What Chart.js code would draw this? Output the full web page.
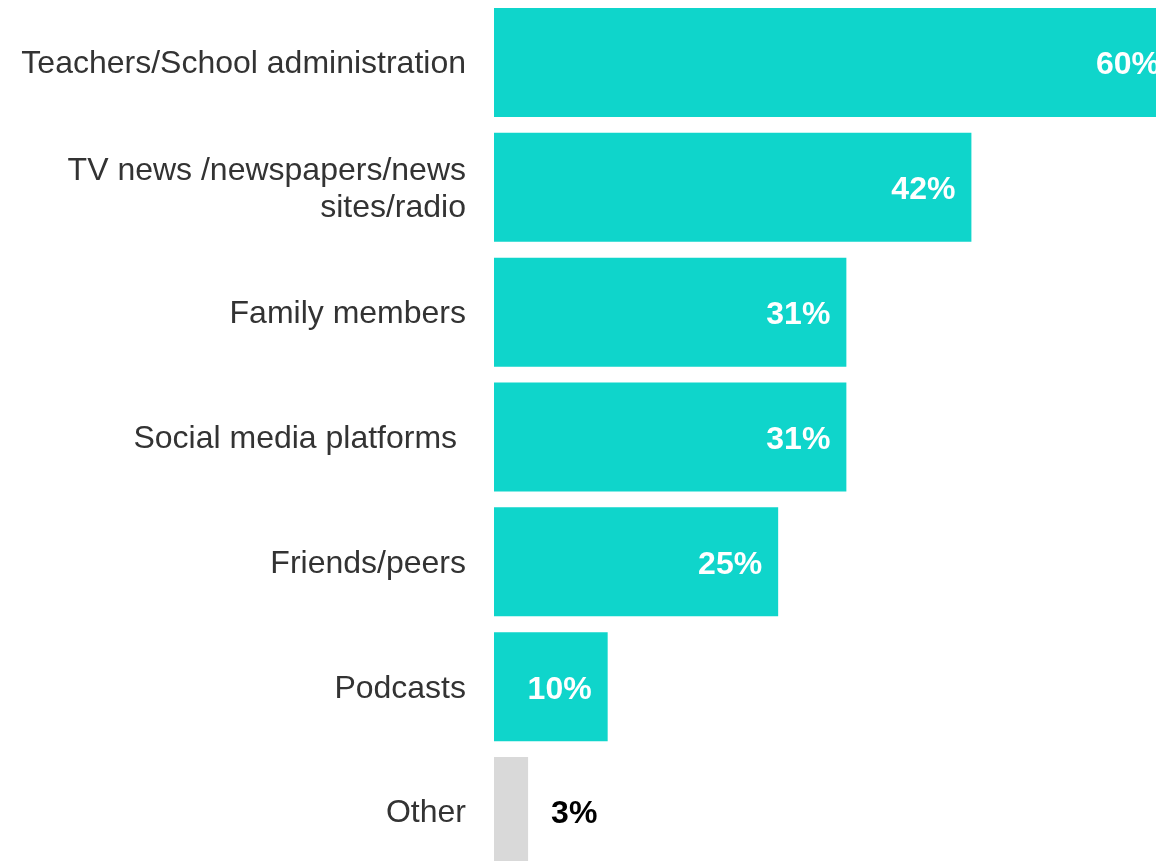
<!DOCTYPE html>
<html>
<head>
<meta charset="utf-8">
<script src="https://cdn.jsdelivr.net/npm/chart.js@4.4.1/dist/chart.umd.min.js"></script>
<style>
  html, body { margin: 0; padding: 0; background: #ffffff; overflow: hidden; }
  #wrap { position: absolute; left: 0; top: 0; width: 1176px; height: 874px; }
</style>
</head>
<body>
<div id="wrap"><canvas id="chart" width="1176" height="874"></canvas></div>
<script>
// Sources of information, share of respondents (%)
const categories = [
  'Teachers/School administration',
  ['TV news /newspapers/news', 'sites/radio'],
  'Family members',
  'Social media platforms ',
  'Friends/peers',
  'Podcasts',
  'Other'
];
const shares = [60, 42, 31, 31, 25, 10, 3];
const valueLabels = ['60%', '42%', '31%', '31%', '25%', '10%', '3%'];

const TEAL = '#0FD5CB';
const GREY = '#D9D9D9';
const FONT = '"Liberation Sans", Arial, Helvetica, sans-serif';

// Value labels: inside the bar end in white, or just past a short bar in black
const barValueLabels = {
  id: 'barValueLabels',
  afterDatasetsDraw(chart) {
    const ctx = chart.ctx;
    const meta = chart.getDatasetMeta(0);
    ctx.save();
    ctx.font = 'bold 32px ' + FONT;
    ctx.textBaseline = 'middle';
    meta.data.forEach((bar, i) => {
      const v = shares[i];
      if (v >= 5) {
        ctx.fillStyle = '#FFFFFF';
        ctx.textAlign = 'right';
        ctx.fillText(valueLabels[i], bar.x - 16, bar.y + 3);
      } else {
        ctx.fillStyle = '#000000';
        ctx.textAlign = 'left';
        ctx.fillText(valueLabels[i], bar.x + 23, bar.y + 3);
      }
    });
    ctx.restore();
  }
};

new Chart(document.getElementById('chart'), {
  type: 'bar',
  data: {
    labels: categories,
    datasets: [{
      data: shares,
      backgroundColor: shares.map((v, i) => i === shares.length - 1 ? GREY : TEAL),
      borderWidth: 0,
      categoryPercentage: 1.0,
      barPercentage: 0.873
    }]
  },
  options: {
    indexAxis: 'y',
    responsive: false,
    animation: false,
    layout: { padding: 0 },
    plugins: {
      legend: { display: false },
      tooltip: { enabled: false }
    },
    scales: {
      x: {
        display: false,
        min: 0,
        max: 60
      },
      y: {
        grid: { display: false, drawTicks: false },
        border: { display: false },
        ticks: {
          color: '#333333',
          padding: 28,
          labelOffset: 2,
          font: { family: FONT, size: 32, lineHeight: 1.15 }
        },
        afterFit(scale) {
          // fixed label column; rows run the full canvas height
          scale.width = 494;
          scale.paddingTop = 0;
          scale.paddingBottom = 0;
        }
      }
    }
  },
  plugins: [barValueLabels]
});
</script>
</body>
</html>
